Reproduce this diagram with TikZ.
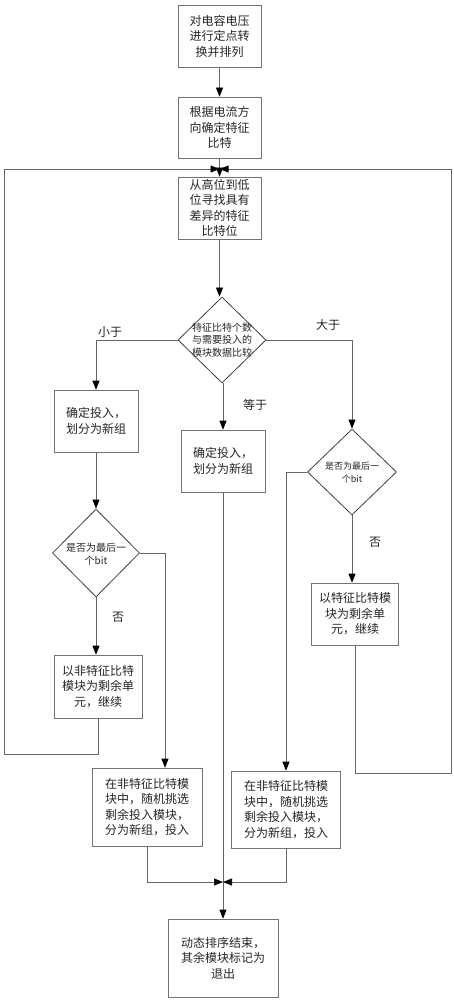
\documentclass[tikz,border=0pt]{standalone}
\usepackage{fontspec}
\setmainfont{Noto Sans CJK SC}
\usetikzlibrary{shapes.geometric,arrows.meta}
\tikzset{
  box/.style={draw=black!55, line width=0.7pt, rectangle, align=center, inner sep=0pt,
    text=black!85, font=\fontsize{12}{15.5}\selectfont},
  dia/.style={draw=black!75, line width=0.8pt, diamond, inner sep=0pt},
  dtext/.style={align=center, inner sep=0pt, text=black!85},
  lab/.style={inner sep=0pt, text=black!85, font=\fontsize{12}{14}\selectfont},
  line/.style={draw=black!60, line width=0.7pt},
  arr/.style={line, -{Triangle[length=9pt,width=7pt,fill=black,color=black]}}
}
\begin{document}
\begin{tikzpicture}[x=1pt,y=-1pt]
\useasboundingbox[fill=white] (0,0) rectangle (453,1000);
% boxes
\node[box, minimum width=83, minimum height=62] (b1) at (219.5,36) {对电容电压\\进行定点转\\换并排列};
\node[box, minimum width=83, minimum height=61] (b2) at (219.5,127.5) {根据电流方\\向确定特征\\比特};
\node[box, minimum width=83, minimum height=62] (b3) at (219.5,208) {从高位到低\\位寻找具有\\差异的特征\\比特位};
\node[dia, minimum width=88, minimum height=86] (d1) at (222,340) {};
\node[dtext, font=\fontsize{10}{12.5}\selectfont] (t1) at (d1.center) {特征比特个数\\与需要投入的\\模块数据比较};
\node[box, minimum width=84, minimum height=62] (b4) at (96,421) {确定投入，\\划分为新组};
\node[box, minimum width=84, minimum height=62] (b5) at (223,461) {确定投入，\\划分为新组};
\node[dia, minimum width=89, minimum height=86] (d2) at (352,472) {};
\node[dtext, font=\fontsize{9}{13}\selectfont] (t2) at ([yshift=-1]d2.center) {是否为最后一\\个bit};
\node[dia, minimum width=87, minimum height=88] (d3) at (96,553) {};
\node[dtext, font=\fontsize{10}{13}\selectfont] (t3) at ([yshift=-1]d3.center) {是否为最后一\\个bit};
\node[box, minimum width=87, minimum height=62] (b8) at (355,614) {以特征比特模\\块为剩余单\\元，继续};
\node[box, minimum width=88, minimum height=63] (b9) at (98,686.5) {以非特征比特\\模块为剩余单\\元，继续};
\node[box, minimum width=110, minimum height=78] (b6) at (147,807) {在非特征比特模\\块中，随机挑选\\剩余投入模块，\\分为新组，投入};
\node[box, minimum width=109, minimum height=77] (b7) at (286,809.5) {在非特征比特模\\块中，随机挑选\\剩余投入模块，\\分为新组，投入};
\node[box, minimum width=110, minimum height=78] (b10) at (223,958) {动态排序结束，\\其余模块标记为\\退出};
% labels
\node[lab] (l1) at (110,332) {小于};
\node[lab] (l2) at (328,325) {大于};
\node[lab] (l3) at (255,405) {等于};
\node[lab] (l4) at (375,542) {否};
\node[lab] (l5) at (118,617) {否};
% helper coordinates
\coordinate (J1) at (219.5,169);
\coordinate (J2) at (223,882);
\coordinate (L1) at (4,754);
\coordinate (R1) at (451,773);
\coordinate (c3) at (165,0);
% connectors
\draw[arr] (b1.south) -- (b2.north);
\draw[arr] (b2.south) -- (b3.north);
\draw[arr] (b9.south) |- (L1) |- (J1);
\draw[arr] (b8.south) |- (R1) |- (J1);
\draw[arr] (b3.south) -- (b3.south |- d1.north);
\draw[arr] (d1.west) -| (b4.north);
\draw[arr] (d1.south -| b5.north) -- (b5.north);
\draw[arr] (d1.east) -| (d2.north);
\draw[arr] (b4.south) -- (d3.north);
\draw[arr] (d3.east) -| (c3 |- b6.north);
\draw[arr] (d3.south) -- (d3.south |- b9.north);
\draw[arr] (d2.west) -| (b7.north);
\draw[arr] (d2.south) -- (d2.south |- b8.north);
\draw[arr] (b5.south) -- (b10.north);
\draw[arr] (b6.south) |- (J2);
\draw[arr] (b7.south) |- (J2);
\end{tikzpicture}
\end{document}
